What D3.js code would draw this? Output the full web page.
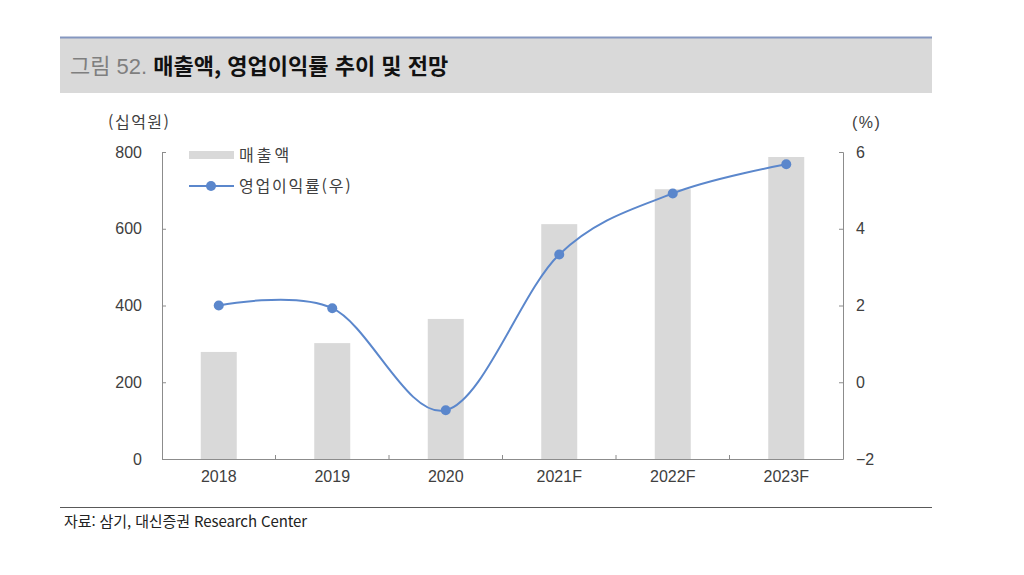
<!DOCTYPE html>
<html lang="ko">
    <head>
        <meta charset="utf-8"/>
        <script src="https://d3js.org/d3.v7.min.js"></script>
        <style>
            body { margin: 0; background: #fff; }
            text { font-family: "Liberation Sans", "Noto Sans CJK KR", sans-serif; }
            .kr { font-family: "Noto Sans CJK KR", sans-serif; }
        </style>
    </head>
    <body>
        <div id="chart"></div>
    </body>
    <script>
        // 매출액 (십억원), 영업이익률 (%)
        var years = ["2018", "2019", "2020", "2021F", "2022F", "2023F"];
        var sales = [279, 302, 365, 612, 703, 787];
        var margin_pct = [2.0, 1.93, -0.73, 3.33, 4.92, 5.68];
        var leftTicks = [0, 200, 400, 600, 800];
        var rightTicks = [-2, 0, 2, 4, 6];

        var W = 1024, H = 575;
        var plot = {left: 162, right: 843, top: 152, bottom: 459};

        var svg = d3.select("#chart")
            .append("svg")
                .attr("width", W)
                .attr("height", H);

        // title band
        svg.append("rect")
            .attr("x", 60).attr("y", 37)
            .attr("width", 872).attr("height", 56)
            .attr("fill", "#d9d9d9");
        svg.append("line")
            .attr("x1", 60).attr("x2", 932)
            .attr("y1", 37.5).attr("y2", 37.5)
            .attr("stroke", "#8597c0").attr("stroke-width", 2);

        var title = svg.append("text")
            .attr("class", "kr")
            .attr("x", 70).attr("y", 74)
            .attr("font-size", 22);
        title.append("tspan").attr("fill", "#7f7f7f")
            .attr("font-family", "Liberation Sans, Noto Sans CJK KR, sans-serif")
            .text("그림 52. ");
        title.append("tspan").attr("fill", "#111").attr("font-weight", "bold")
            .text("매출액, 영업이익률 추이 및 전망");

        var band = d3.scaleBand().domain(years).range([plot.left, plot.right]);

        var y = d3.scaleLinear()
            .domain([0, 800])
            .range([plot.bottom, plot.top]);

        var y2 = d3.scaleLinear()
            .domain([-2, 6])
            .range([plot.bottom, plot.top]);

        // bars
        svg.append("g")
            .selectAll("rect")
            .data(years)
            .enter()
            .append("rect")
            .attr("x", function (d) { return band(d) + band.bandwidth() / 2 - 18; })
            .attr("width", 36)
            .attr("y", function (d, i) { return y(sales[i]); })
            .attr("height", function (d, i) { return y(0) - y(sales[i]); })
            .attr("fill", "#d9d9d9");

        // axes
        var axisColor = "#8c8c8c";

        var gl = svg.append("g")
            .attr("transform", "translate(" + plot.left + ",0)")
            .call(d3.axisLeft(y).tickValues(leftTicks).tickSize(-4).tickPadding(20));
        var gr = svg.append("g")
            .attr("transform", "translate(" + plot.right + ",0)")
            .call(d3.axisRight(y2).tickValues(rightTicks).tickSize(-4).tickPadding(13)
                .tickFormat(function (d) { return d < 0 ? "\u2212" + Math.abs(d) : d; }));
        var gb = svg.append("g")
            .attr("transform", "translate(0," + plot.bottom + ")")
            .call(d3.axisBottom(band).tickSize(0).tickPadding(12));

        // tick marks between categories on x axis
        svg.append("g")
            .selectAll("line")
            .data(years.slice(1))
            .enter()
            .append("line")
            .attr("x1", function (d) { return band(d); })
            .attr("x2", function (d) { return band(d); })
            .attr("y1", plot.bottom)
            .attr("y2", plot.bottom - 4)
            .attr("stroke", axisColor);

        [gl, gr, gb].forEach(function (g) {
            g.selectAll(".domain").attr("stroke", axisColor);
            g.selectAll(".tick line").attr("stroke", axisColor);
            g.selectAll("text")
                .attr("fill", "#404040")
                .attr("font-size", 16)
                .attr("font-family", "Liberation Sans, sans-serif");
        });
        gb.select(".domain").attr("d", "M" + plot.left + ",0.5H" + plot.right);

        // axis units
        svg.append("text").attr("class", "kr")
            .attr("x", 108).attr("y", 128)
            .attr("font-size", 16).attr("fill", "#404040")
            .attr("letter-spacing", "1.5")
            .text("(십억원)");
        svg.append("text")
            .attr("x", 852).attr("y", 128)
            .attr("font-size", 16).attr("fill", "#404040")
            .attr("letter-spacing", "1.5")
            .text("(%)");

        // margin line
        var lineColor = "#5b87cc";
        var line = d3.line()
            .x(function (d, i) { return band(years[i]) + band.bandwidth() / 2; })
            .y(function (d) { return y2(d); })
            .curve(d3.curveCatmullRom.alpha(0));

        svg.append("path")
            .datum(margin_pct)
            .attr("d", line)
            .attr("fill", "none")
            .attr("stroke", lineColor)
            .attr("stroke-width", 2);

        svg.append("g")
            .selectAll("circle")
            .data(margin_pct)
            .enter()
            .append("circle")
            .attr("cx", function (d, i) { return band(years[i]) + band.bandwidth() / 2; })
            .attr("cy", function (d) { return y2(d); })
            .attr("r", 5)
            .attr("fill", lineColor);

        // legend
        var lg = svg.append("g");
        lg.append("rect")
            .attr("x", 189).attr("y", 151)
            .attr("width", 45).attr("height", 8)
            .attr("fill", "#d9d9d9");
        lg.append("text").attr("class", "kr")
            .attr("x", 239).attr("y", 161)
            .attr("font-size", 16).attr("fill", "#404040")
            .attr("letter-spacing", "3")
            .text("매출액");
        lg.append("line")
            .attr("x1", 189).attr("x2", 234)
            .attr("y1", 186).attr("y2", 186)
            .attr("stroke", lineColor).attr("stroke-width", 2);
        lg.append("circle")
            .attr("cx", 211).attr("cy", 186).attr("r", 5)
            .attr("fill", lineColor);
        lg.append("text").attr("class", "kr")
            .attr("x", 239).attr("y", 192)
            .attr("font-size", 16).attr("fill", "#404040")
            .attr("letter-spacing", "1.8")
            .text("영업이익률(우)");

        // source
        svg.append("line")
            .attr("x1", 60).attr("x2", 932)
            .attr("y1", 507.5).attr("y2", 507.5)
            .attr("stroke", "#595959").attr("stroke-width", 1);
        svg.append("text").attr("class", "kr")
            .attr("x", 64).attr("y", 527)
            .attr("font-size", 15).attr("fill", "#222")
            .attr("letter-spacing", "-0.1")
            .text("자료: 삼기, 대신증권 Research Center");
    </script>
</html>
